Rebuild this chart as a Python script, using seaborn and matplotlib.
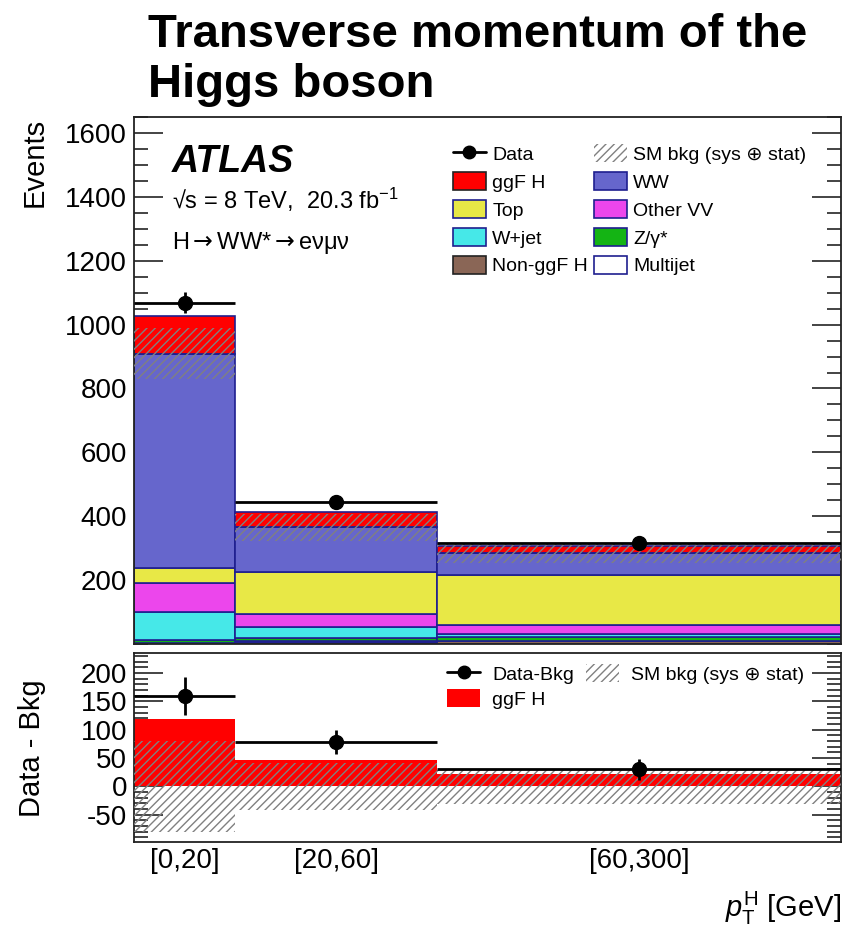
import numpy as np
import pandas as pd
import matplotlib
matplotlib.use("Agg")
import matplotlib.pyplot as plt
from matplotlib.patches import Patch
from matplotlib.lines import Line2D
from matplotlib.ticker import MultipleLocator, FixedLocator
import seaborn as sns

# ---- binning (pT^H bins drawn on an evenly growing display scale) ----
bin_labels = ["[0,20]", "[20,60]", "[60,300]"]
bin_edges = [0, 1, 3, 7]

# ---- observed events ----
data = [1068, 444, 316]
data_err = [33, 21, 18]

# ---- expected yields per process ----
ggf_h = [119, 47, 21]
ww = [671, 140, 69]
top = [48, 131, 156]
other_vv = [90, 41, 29]
w_jet = [88, 36, 10]
z_gamma = [8, 10, 12]
multijet = [1, 2, 1]
non_ggf_h = [3, 6, 9]

# total background uncertainty (sys + stat)
bkg_unc = [80, 42, 31]

process_names = ["ggF H", "WW", "Top", "Other VV", "W+jet", "Z/γ*", "Multijet", "Non-ggF H"]
process_yields = [ggf_h, ww, top, other_vv, w_jet, z_gamma, multijet, non_ggf_h]
process_colors = ["#ff0000", "#6666cc", "#e8e846", "#ec46ec", "#46e8e8", "#14b414", "#ffffff", "#8a6656"]

sns.set_theme(style="ticks")
plt.rcParams["font.family"] = ["Liberation Sans", "DejaVu Sans"]
plt.rcParams["mathtext.fontset"] = "custom"
plt.rcParams["mathtext.rm"] = "Liberation Sans"
plt.rcParams["mathtext.it"] = "Liberation Sans:italic"
plt.rcParams["mathtext.bf"] = "Liberation Sans:bold"
plt.rcParams["mathtext.sf"] = "DejaVu Sans"
plt.rcParams["axes.unicode_minus"] = False
plt.rcParams["text.color"] = "black"
plt.rcParams["axes.labelcolor"] = "black"
plt.rcParams["xtick.color"] = "black"
plt.rcParams["ytick.color"] = "black"
plt.rcParams["hatch.linewidth"] = 1.0
plt.rcParams["hatch.color"] = "#808080"

edges = np.array(bin_edges, dtype=float)
centers = 0.5 * (edges[:-1] + edges[1:])
widths = np.diff(edges)
half = widths / 2

df = pd.DataFrame(
    [(name, centers[i], vals[i]) for name, vals in zip(process_names, process_yields) for i in range(3)],
    columns=["process", "x", "events"],
)
palette = dict(zip(process_names, process_colors))

bkg_total = np.sum([ww, top, other_vv, w_jet, z_gamma, multijet, non_ggf_h], axis=0)
data_arr = np.array(data, dtype=float)
unc = np.array(bkg_unc, dtype=float)

fig = plt.figure(figsize=(8.56, 9.34), dpi=100)
ax_top = fig.add_axes([134 / 856, 1 - 644 / 934, 707 / 856, 527 / 934])
ax_bot = fig.add_axes([134 / 856, 1 - 842 / 934, 707 / 856, 189 / 934])

# ---- upper panel: stacked expectation ----
sns.histplot(
    data=df, x="x", weights="events", hue="process", hue_order=process_names,
    palette=palette, multiple="stack", bins=bin_edges, element="bars",
    alpha=1, edgecolor="#1f1f8f", linewidth=1.2, legend=False, ax=ax_top,
)
# boundary between background sum and signal
ax_top.hlines(bkg_total, edges[:-1], edges[1:], colors="#1f1f8f", linestyles=(0, (4, 3)),
              linewidth=1.2, zorder=2.5)
ax_top.bar(centers, 2 * unc, width=widths, bottom=bkg_total - unc, fill=False,
           hatch="////", edgecolor="#808080", linewidth=0, zorder=3)
ax_top.errorbar(centers, data_arr, xerr=half, yerr=data_err, fmt="o", color="black",
                ms=10, elinewidth=2, capsize=0, zorder=5)

ax_top.set_xlim(0, 7)
ax_top.set_ylim(0, 1650)
ax_top.yaxis.set_major_locator(FixedLocator([200, 400, 600, 800, 1000, 1200, 1400, 1600]))
ax_top.yaxis.set_minor_locator(MultipleLocator(50))
ax_top.set_xticks([])
ax_top.set_xlabel("")
ax_top.set_ylabel("")

leg_handles = [
    Line2D([], [], color="black", marker="o", ms=9, lw=2),
    Patch(facecolor=palette["ggF H"], edgecolor="#222222", lw=1.2),
    Patch(facecolor=palette["Top"], edgecolor="#1f1f8f", lw=1.2),
    Patch(facecolor=palette["W+jet"], edgecolor="#1f1f8f", lw=1.2),
    Patch(facecolor=palette["Non-ggF H"], edgecolor="#222222", lw=1.2),
    Patch(facecolor="white", edgecolor="#808080", hatch="////", lw=0),
    Patch(facecolor=palette["WW"], edgecolor="#1f1f8f", lw=1.2),
    Patch(facecolor=palette["Other VV"], edgecolor="#1f1f8f", lw=1.2),
    Patch(facecolor=palette["Z/γ*"], edgecolor="#1f1f8f", lw=1.2),
    Patch(facecolor="white", edgecolor="#1f1f8f", lw=1.2),
]
leg_labels = ["Data", "ggF H", "Top", "W+jet", "Non-ggF H",
              "SM bkg (sys ⊕ stat)", "WW", "Other VV", "Z/γ*", "Multijet"]
ax_top.legend(leg_handles, leg_labels, ncol=2, loc="upper left",
              bbox_to_anchor=(0.451, 0.948), frameon=False, fontsize=14,
              handlelength=1.7, handleheight=1.05, handletextpad=0.32,
              columnspacing=0.3, labelspacing=0.42, borderpad=0, borderaxespad=0)

x_txt = (172 - 134) / 707
ax_top.text(x_txt, 1 - (172 - 117) / 527, "ATLAS", transform=ax_top.transAxes,
            fontsize=27, fontweight="bold", fontstyle="italic", va="baseline", ha="left")
ax_top.text(x_txt, 1 - (209 - 117) / 527, "√s = 8 TeV,  20.3 fb$^{-1}$",
            transform=ax_top.transAxes, fontsize=17, va="baseline", ha="left")
ax_top.text(x_txt, 1 - (249 - 117) / 527, r"H$\mathsf{\rightarrow}$WW*$\mathsf{\rightarrow}$eνμν",
            transform=ax_top.transAxes, fontsize=17, va="baseline", ha="left")

# ---- lower panel: data minus background ----
diff = data_arr - bkg_total
sig_df = pd.DataFrame({"x": centers, "events": ggf_h})
sns.histplot(data=sig_df, x="x", weights="events", bins=bin_edges, element="bars",
             color=palette["ggF H"], alpha=1, linewidth=0, ax=ax_bot)
ax_bot.bar(centers, 2 * unc, width=widths, bottom=-unc, fill=False,
           hatch="////", edgecolor="#808080", linewidth=0, zorder=3)
ax_bot.errorbar(centers, diff, xerr=half, yerr=data_err,
                fmt="o", color="black", ms=10, elinewidth=2, capsize=0, zorder=5)

ax_bot.set_xlim(0, 7)
ax_bot.set_ylim(-98, 235)
ax_bot.yaxis.set_major_locator(FixedLocator([-50, 0, 50, 100, 150, 200]))
ax_bot.yaxis.set_minor_locator(MultipleLocator(10))
ax_bot.set_xticks(centers)
ax_bot.set_xticklabels(bin_labels)
ax_bot.set_xlabel("")
ax_bot.set_ylabel("")

bot_handles = [
    Line2D([], [], color="black", marker="o", ms=9, lw=2),
    Patch(facecolor=palette["ggF H"], edgecolor="none"),
    Patch(facecolor="white", edgecolor="#808080", hatch="////", lw=0),
]
ax_bot.legend(bot_handles, ["Data-Bkg", "ggF H", "SM bkg (sys ⊕ stat)"], ncol=2,
              loc="upper left", bbox_to_anchor=(0.443, 0.94), frameon=False, fontsize=14,
              handlelength=1.7, handleheight=1.05, handletextpad=0.6,
              columnspacing=0.65, labelspacing=0.25, borderpad=0, borderaxespad=0)

for ax in (ax_top, ax_bot):
    for sp in ax.spines.values():
        sp.set_visible(True)
        sp.set_linewidth(1.3)
        sp.set_color("#222222")
    ax.tick_params(axis="y", which="both", direction="in", left=True, right=True,
                   labelsize=20, pad=5, width=1.1, color="#111111", labelcolor="black")
    ax.tick_params(axis="y", which="major", length=21)
    ax.tick_params(axis="y", which="minor", length=10)
    ax.tick_params(axis="x", which="both", length=0, labelsize=20, pad=4, labelcolor="black")
    ax.set_facecolor("white")

fig.text(148 / 856, 1 - 47 / 934, "Transverse momentum of the", fontsize=34,
         fontweight="bold", ha="left", va="baseline", color="black")
fig.text(148 / 856, 1 - 97 / 934, "Higgs boson", fontsize=34,
         fontweight="bold", ha="left", va="baseline", color="black")
fig.text(35 / 856, 1 - 118 / 934, "Events", rotation=90, fontsize=21, ha="center", va="top")
fig.text(32 / 856, 1 - 748 / 934, "Data - Bkg", rotation=90, fontsize=21, ha="center", va="center")
fig.text(841 / 856, 1 - 917 / 934, r"$p_{\mathrm{T}}^{\mathrm{H}}$ [GeV]", fontsize=21,
         ha="right", va="baseline")

fig.savefig("out.png", dpi=100, facecolor="white")
